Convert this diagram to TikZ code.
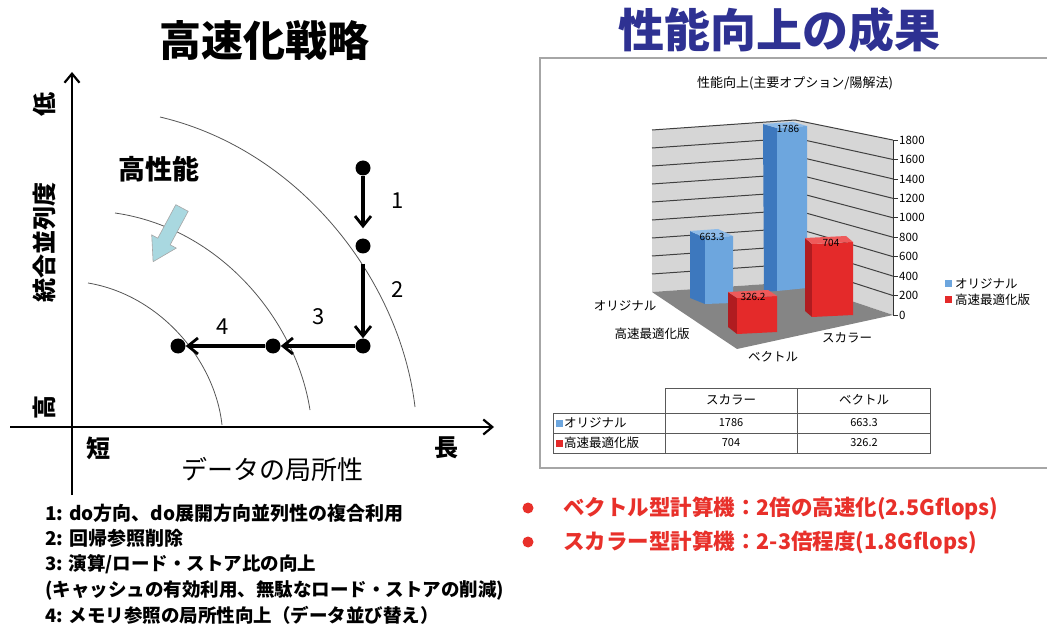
\documentclass[tikz,border=0pt]{standalone}
\usepackage{fontspec}
\setmainfont{Noto Sans CJK JP}
\usetikzlibrary{arrows.meta}
\definecolor{titleblue}{HTML}{2E3192}
\definecolor{bulletred}{HTML}{E8302A}
\definecolor{curvegray}{HTML}{555555}
\definecolor{wallgray}{HTML}{D6D6D6}
\definecolor{floorgray}{HTML}{858585}
\definecolor{bluefront}{HTML}{6DA6DE}
\definecolor{blueside}{HTML}{3D78BE}
\definecolor{bluetop}{HTML}{8EBBE8}
\definecolor{redfront}{HTML}{E42A2A}
\definecolor{redside}{HTML}{B01C20}
\definecolor{redtop}{HTML}{EE5A5A}
\definecolor{arrowcyan}{HTML}{A9D8E0}
\newcommand\myfs[1]{\fontsize{#1}{#1}\selectfont}
\begin{document}
\begin{tikzpicture}[x=1pt,y=-1pt,
  txt/.style={inner sep=0pt},
  axisline/.style={line width=2.4pt,-{Straight Barb[length=9pt,width=15pt,line width=2.2pt]}},
  steparrow/.style={line width=3.2pt,-{Straight Barb[length=10pt,width=16pt,line width=2.8pt]}},
  dotnode/.style={circle,fill=black,minimum size=15pt,inner sep=0pt},
  curve/.style={draw=curvegray,line width=0.8pt},
  gridl/.style={draw=black!75,line width=1pt},
  tablel/.style={draw=black!65,line width=0.8pt}]
\useasboundingbox (0,0) rectangle (1047,628);

% ---------- titles ----------
\node[txt] (ltitle) at (264,41) {\myfs{42}\bfseries 高速化戦略};
\node[txt] (rtitle) at (779,30) {\color{titleblue}\myfs{46}\bfseries 性能向上の成果};

% ---------- left: axes ----------
\coordinate (ybot) at (72,495);
\coordinate (ytop) at (72,72);
\coordinate (xleft) at (10,427);
\coordinate (xright) at (494,427);
\draw[axisline] (ybot) -- (ytop);
\draw[axisline] (xleft) -- (xright);

\node[txt,rotate=90] (low) at (44,105) {\myfs{24}\bfseries 低};
\node[txt,rotate=90] (ylab) at (44,243) {\myfs{24}\bfseries 統合並列度};
\node[txt,rotate=90] (high) at (44,407) {\myfs{24}\bfseries 高};
\node[txt] (short) at (98,448) {\myfs{24}\bfseries 短};
\node[txt] (long) at (446,448) {\myfs{24}\bfseries 長};
\node[txt] (xlab) at (272,469) {\myfs{26}データの局所性};
\node[txt] (hp) at (159,169) {\myfs{27}\bfseries 高性能};

% curves
\draw[curve] (160,117) .. controls (300,150) and (400,280) .. (415,407);
\draw[curve] (115,213) .. controls (220,228) and (296,320) .. (310,410);
\draw[curve] (88,283) .. controls (160,295) and (215,360) .. (222,425);

% light blue block arrow
\draw[fill=arrowcyan,draw=gray!70,line width=0.6pt]
  (188.2,211.3) -- (175.8,204.7) -- (157.8,238.2) -- (151.7,234.9)
  -- (153.1,261.7) -- (176.3,248.1) -- (170.2,244.8) -- cycle;

% dots and step arrows
\node[dotnode] (p1) at (363,168) {};
\node[dotnode] (p2) at (363,246) {};
\node[dotnode] (p3) at (363,346) {};
\node[dotnode] (p4) at (273,346) {};
\node[dotnode] (p5) at (178,346) {};
\draw[steparrow,shorten >=10pt] (p1) -- (p2);
\draw[steparrow,shorten <=10pt] (p2) -- (p3);
\draw[steparrow] (p3) -- (p4);
\draw[steparrow] (p4) -- (p5);
\node[txt] (n1) at (398,201) {\myfs{22}1};
\node[txt] (n2) at (398,290) {\myfs{22}2};
\node[txt] (n3) at (319,317) {\myfs{22}3};
\node[txt] (n4) at (223,327) {\myfs{22}4};

% list
\node[txt,anchor=west] (l1) at (45,513) {\myfs{19}\bfseries 1: do方向、do展開方向並列性の複合利用};
\node[txt,anchor=west] (l2) at (45,538) {\myfs{19}\bfseries 2: 回帰参照削除};
\node[txt,anchor=west] (l3) at (45,564) {\myfs{18.5}\bfseries 3: 演算/ロード・ストア比の向上};
\node[txt,anchor=west] (l4) at (45,590) {\myfs{18.5}\bfseries (キャッシュの有効利用、無駄なロード・ストアの削減)};
\node[txt,anchor=west] (l5) at (45,615) {\myfs{18.5}\bfseries 4: メモリ参照の局所性向上（データ並び替え）};

% ---------- right: chart box ----------
\draw[draw=gray!70,line width=1.2pt] (1050,58) -- (540,58) -- (540,468) -- (1050,468);
\node[txt] (ctitle) at (795,83) {\myfs{13}性能向上(主要オプション/陽解法)};

% walls
\fill[wallgray] (652,130) -- (795,120) -- (795,282) -- (652,292) -- cycle;
\fill[wallgray] (795,120) -- (893,140) -- (893,315) -- (795,282) -- cycle;
\foreach \v in {200,400,...,1800}{
  \draw[gridl] (652,{292-0.09*\v}) -- (795,{282-0.09*\v}) -- (893,{315-0.0972*\v});
}
% floor
\fill[floorgray] (652,292) -- (795,282) -- (893,315) -- (737,349) -- cycle;
% value axis
\draw[draw=black!80,line width=0.8pt] (893,140) -- (893,315);
\foreach \v in {0,200,...,1800}{
  \draw[draw=black!80,line width=0.8pt] (893,{315-0.0972*\v}) -- (898,{315-0.0972*\v});
  \node[txt,anchor=west] at (899,{315-0.0972*\v}) {\myfs{11.5}\v};
}
% blue bar (vector)
\fill[blueside] (690,231) -- (705,238) -- (705,304) -- (690,298) -- cycle;
\fill[bluefront] (705,238) -- (733,236) -- (733,303) -- (705,304) -- cycle;
\fill[bluetop] (690,231) -- (718,229) -- (733,236) -- (705,238) -- cycle;
\node[txt] (va) at (712,237) {\myfs{10}663.3};
% blue bar (scalar)
\fill[blueside] (763,124) -- (777,128) -- (777,291) -- (764,292) -- cycle;
\fill[bluefront] (777,128) -- (807,126) -- (807,288) -- (777,291) -- cycle;
\fill[bluetop] (763,124) -- (793,122) -- (807,126) -- (777,128) -- cycle;
\node[txt] (vb) at (788,129) {\myfs{10}1786};
% red bar (vector)
\fill[redside] (728,292) -- (737,298) -- (737,334) -- (728,327) -- cycle;
\fill[redfront] (737,298) -- (777,296) -- (777,332) -- (737,334) -- cycle;
\fill[redtop] (728,292) -- (768,290) -- (777,296) -- (737,298) -- cycle;
\node[txt] (vc) at (753,297) {\myfs{10}326.2};
% red bar (scalar)
\fill[redside] (805,238) -- (812,244) -- (812,317) -- (805,311) -- cycle;
\fill[redfront] (812,244) -- (853,242) -- (853,315) -- (812,317) -- cycle;
\fill[redtop] (805,238) -- (846,236) -- (853,242) -- (812,244) -- cycle;
\node[txt] (vd) at (831,243) {\myfs{10}704};

% category labels
\node[txt] (co) at (625,306) {\myfs{12.5}オリジナル};
\node[txt] (cf) at (652,334) {\myfs{12.5}高速最適化版};
\node[txt] (cv) at (773,357) {\myfs{12.5}ベクトル};
\node[txt] (cs) at (847,338) {\myfs{12.5}スカラー};

% legend
\fill[bluefront] (945,280) rectangle (952,287);
\node[txt,anchor=west] (lg1) at (955,284) {\myfs{12.5}オリジナル};
\fill[redfront] (945,296) rectangle (952,303);
\node[txt,anchor=west] (lg2) at (955,300) {\myfs{12.5}高速最適化版};

% data table
\draw[tablel] (665,388) rectangle (930,453);
\draw[tablel] (553,413) rectangle (930,453);
\draw[tablel] (553,433) -- (930,433);
\draw[tablel] (797,388) -- (797,453);
\node[txt] (th1) at (731,400) {\myfs{12.5}スカラー};
\node[txt] (th2) at (864,400) {\myfs{12.5}ベクトル};
\fill[bluefront] (556,420) rectangle (563,427);
\node[txt,anchor=west] (tr1) at (564,423) {\myfs{12.5}オリジナル};
\node[txt] (t11) at (731,423) {\myfs{11}1786};
\node[txt] (t12) at (864,423) {\myfs{11}663.3};
\fill[redfront] (556,440) rectangle (563,447);
\node[txt,anchor=west] (tr2) at (564,443) {\myfs{12.5}高速最適化版};
\node[txt] (t21) at (731,443) {\myfs{11}704};
\node[txt] (t22) at (864,443) {\myfs{11}326.2};

% ---------- right: bullets ----------
\node[circle,fill=bulletred,minimum size=11pt,inner sep=0pt] (b1) at (528,508) {};
\node[circle,fill=bulletred,minimum size=11pt,inner sep=0pt] (b2) at (528,542) {};
\node[txt,anchor=west] (bt1) at (563,508) {\color{bulletred}\myfs{21.5}\bfseries ベクトル型計算機：2倍の高速化(2.5Gflops)};
\node[txt,anchor=west] (bt2) at (563,542) {\color{bulletred}\myfs{21.5}\bfseries スカラー型計算機：2-3倍程度(1.8Gflops)};
\end{tikzpicture}
\end{document}
